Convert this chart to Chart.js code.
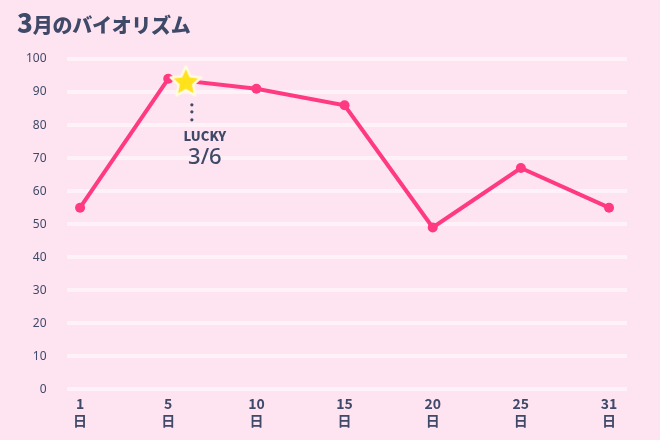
<!DOCTYPE html>
<html>
<head>
<meta charset="utf-8">
<script src="https://cdn.jsdelivr.net/npm/chart.js@4/dist/chart.umd.min.js"></script>
<style>
  html, body { margin: 0; padding: 0; background: #fee4f1; }
  #wrap { position: relative; width: 660px; height: 440px; }
  #title { position: absolute; left: 17px; top: 6px; margin: 0; font-family: "Noto Sans CJK JP", sans-serif; font-weight: 800; color: #3f4968; font-size: 20px; letter-spacing: -0.3px; line-height: 32px; }
  #title .big { font-size: 26px; letter-spacing: 0; }
  canvas { position: absolute; left: 0; top: 0; }
</style>
</head>
<body>
<div id="wrap">
  <canvas id="c" width="660" height="440"></canvas>
  <h1 id="title"><span class="big">3</span>月のバイオリズム</h1>
</div>
<script>
// ---- data ----
const days = ['1', '5', '10', '15', '20', '25', '31'];
const dayUnit = '日';
const values = [55, 94, 91, 86, 49, 67, 55];
const luckyDay = 6;
const luckyLabel = 'LUCKY';
const luckyText = '3/6';
const yTicks = [0, 10, 20, 30, 40, 50, 60, 70, 80, 90, 100];

const lineColor = '#ff3a80';
const textColor = '#3f4968';

// position of lucky day along the index axis, interpolated between day labels
const dayNums = days.map(Number);
let luckyIndex = 0;
for (let i = 0; i < dayNums.length - 1; i++) {
  if (luckyDay >= dayNums[i] && luckyDay <= dayNums[i + 1]) {
    luckyIndex = i + (luckyDay - dayNums[i]) / (dayNums[i + 1] - dayNums[i]);
  }
}
const li = Math.floor(luckyIndex), lf = luckyIndex - li;
const luckyValue = values[li] + (values[li + 1] - values[li]) * lf;

// star image used as point style
function makeStar(R) {
  const pad = 3;
  const size = Math.ceil(2 * R + 2 * pad);
  const cv = document.createElement('canvas');
  cv.width = size; cv.height = size;
  const ctx = cv.getContext('2d');
  const cx = size / 2, cy = size / 2 + R * 0.1;
  ctx.beginPath();
  for (let k = 0; k < 10; k++) {
    const r = k % 2 === 0 ? R : R * 0.48;
    const a = -Math.PI / 2 + k * Math.PI / 5;
    const px = cx + r * Math.cos(a), py = cy + r * Math.sin(a);
    if (k === 0) ctx.moveTo(px, py); else ctx.lineTo(px, py);
  }
  ctx.closePath();
  ctx.lineJoin = 'round';
  ctx.lineWidth = 2.5;
  ctx.strokeStyle = '#fffbe0';
  ctx.fillStyle = '#ffe21c';
  ctx.fill();
  ctx.stroke();
  return cv;
}
const starImg = makeStar(16);

const luckyPlugin = {
  id: 'lucky',
  afterDatasetsDraw(chart) {
    const { ctx, scales } = chart;
    const sx = scales.x.getPixelForValue(luckyIndex);
    const sy = scales.y.getPixelForValue(luckyValue);
    ctx.save();
    ctx.fillStyle = textColor;
    [24, 31, 39].forEach(d => {
      ctx.beginPath();
      ctx.arc(sx + 6, sy + d, 1.6, 0, Math.PI * 2);
      ctx.fill();
    });
    ctx.textAlign = 'center';
    ctx.textBaseline = 'middle';
    ctx.font = '800 13px "Noto Sans CJK JP", "Noto Sans", sans-serif';
    ctx.fillText(luckyLabel, sx + 19, sy + 55);
    ctx.font = '500 22px "Noto Sans", "Noto Sans CJK JP", sans-serif';
    ctx.fillText(luckyText, sx + 19, sy + 77);
    ctx.restore();
  }
};

new Chart(document.getElementById('c'), {
  type: 'line',
  data: {
    datasets: [
      {
        data: values.map((v, i) => ({ x: i, y: v })),
        borderColor: lineColor,
        backgroundColor: lineColor,
        borderWidth: 4,
        pointRadius: 5,
        pointBackgroundColor: lineColor,
        pointBorderWidth: 0,
        tension: 0,
        order: 2
      },
      {
        data: [{ x: luckyIndex, y: luckyValue }],
        showLine: false,
        pointStyle: starImg,
        order: 1
      }
    ]
  },
  options: {
    responsive: false,
    animation: false,
    layout: { padding: { top: 59, left: 6, right: 33, bottom: 5 } },
    plugins: { legend: { display: false }, tooltip: { enabled: false }, title: { display: false } },
    scales: {
      x: {
        type: 'linear',
        min: -0.153,
        max: 6.204,
        grid: { display: false, drawTicks: false },
        border: { display: false },
        ticks: {
          includeBounds: false,
          stepSize: 1,
          autoSkip: false,
          maxRotation: 0,
          padding: 6,
          color: textColor,
          font: { family: '"Noto Sans CJK JP", "Noto Sans", sans-serif', size: 14, weight: '600' },
          callback: (v) => Number.isInteger(v) && days[v] !== undefined ? [days[v], dayUnit] : ''
        }
      },
      y: {
        min: 0,
        max: 100,
        grid: { color: '#fff1f8', lineWidth: 4, drawTicks: false },
        border: { display: false },
        afterBuildTicks: (axis) => { axis.ticks = yTicks.map(v => ({ value: v })); },
        ticks: {
          padding: 20,
          color: textColor,
          font: { family: '"Noto Sans", sans-serif', size: 12 }
        }
      }
    }
  },
  plugins: [luckyPlugin]
});
</script>
</body>
</html>
